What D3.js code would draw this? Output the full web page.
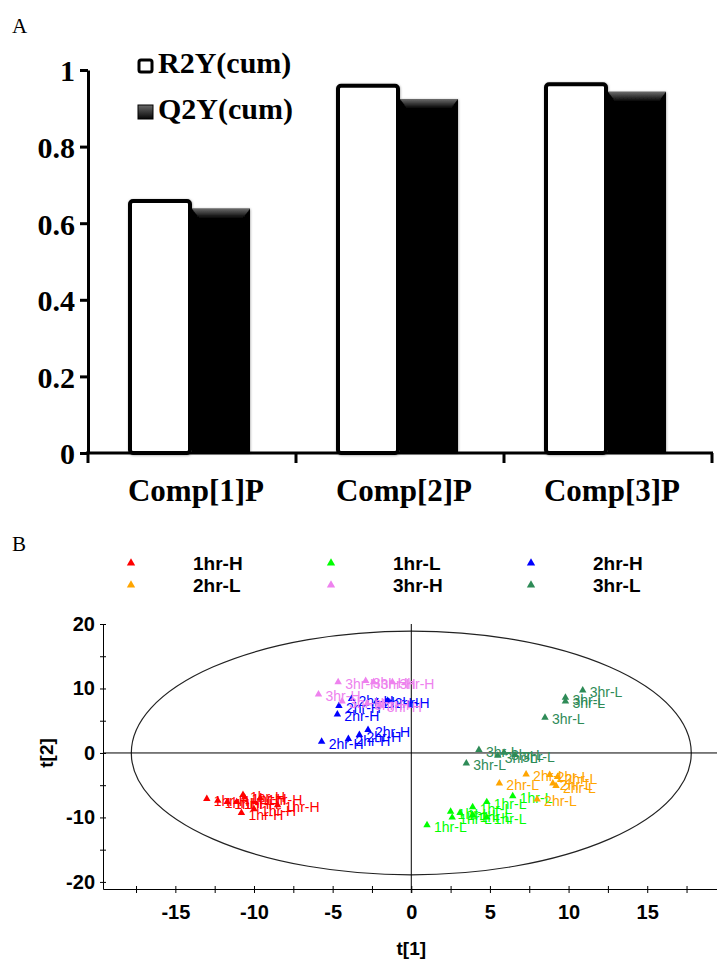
<!DOCTYPE html>
<html>
<head>
<meta charset="utf-8">
<script src="https://cdn.jsdelivr.net/npm/d3@7"></script>
<style>
  body { margin: 0; background: #fff; }
</style>
</head>
<body>
<script>
// panel A data
var components = ["Comp[1]P", "Comp[2]P", "Comp[3]P"];
var seriesA = ["R2Y(cum)", "Q2Y(cum)"];
var r2y = [0.658, 0.959, 0.963];
var q2y = [0.638, 0.924, 0.943];
var yTicksA = [0, 0.2, 0.4, 0.6, 0.8, 1];

// panel B data
var groups = ["1hr-H", "1hr-L", "2hr-H", "2hr-L", "3hr-H", "3hr-L"];
var groupColors = ["#ff0000", "#00ff00", "#0000ff", "#ffa500", "#ee82ee", "#2e8b57"];
var pts1hrH = [[-13.0, -7.1], [-12.3, -7.4], [-11.7, -7.6], [-11.1, -7.6], [-10.7, -6.5], [-10.6, -6.9], [-9.6, -7.0], [-8.5, -8.1], [-10.0, -8.7], [-10.8, -9.3]];
var pts1hrL = [[1.0, -11.2], [2.5, -9.1], [2.6, -10.0], [3.1, -9.3], [3.9, -8.4], [3.9, -9.6], [4.8, -7.6], [4.8, -10.0], [6.45, -6.7]];
var pts2hrH = [[-5.7, 1.75], [-4.0, 2.2], [-3.3, 2.8], [-2.75, 3.6], [-4.7, 6.0], [-4.6, 7.3], [-3.8, 8.4], [-2.2, 8.0], [-1.5, 8.1]];
var pts2hrL = [[7.3, -3.3], [8.8, -3.4], [9.3, -3.7], [9.0, -4.7], [9.2, -5.1], [5.6, -4.7], [8.0, -7.2]];
var pts3hrH = [[-5.9, 9.1], [-4.65, 11.0], [-2.9, 11.2], [-2.4, 11.0], [-1.2, 11.0], [-4.4, 8.0], [-2.8, 7.7], [-2.0, 7.4]];
var pts3hrL = [[10.9, 9.7], [9.8, 8.6], [9.8, 8.0], [8.5, 5.5], [4.3, 0.5], [5.5, -0.4], [5.9, 0.05], [6.6, -0.3], [3.5, -1.6]];
var groupPoints = [pts1hrH, pts1hrL, pts2hrH, pts2hrL, pts3hrH, pts3hrL];
var xTicksB = [-15, -10, -5, 0, 5, 10, 15];
var yTicksB = [-20, -10, 0, 10, 20];
var ellipseRadii = [17.8, 18.9]; // t[1], t[2] units

var serif = "'Liberation Serif', 'Times New Roman', serif";
var sans = "'Liberation Sans', Arial, sans-serif";

var svg = d3.select("body").append("svg")
    .attr("width", 717)
    .attr("height", 963);

var defs = svg.append("defs");
var bevel = defs.append("linearGradient")
    .attr("id", "bevel")
    .attr("x1", 0).attr("y1", 0).attr("x2", 0).attr("y2", 1);
bevel.append("stop").attr("offset", "0%").attr("stop-color", "#6a6a6a");
bevel.append("stop").attr("offset", "100%").attr("stop-color", "#060606");

var shadow = defs.append("filter").attr("id", "shadow")
    .attr("x", "-10%").attr("y", "-10%").attr("width", "120%").attr("height", "120%");
shadow.append("feDropShadow")
    .attr("dx", 0.5).attr("dy", 0.5)
    .attr("stdDeviation", 1.2)
    .attr("flood-color", "#000")
    .attr("flood-opacity", 0.35);

// ---------- panel A ----------
svg.append("text")
    .attr("x", 12).attr("y", 33)
    .style("font-family", serif).style("font-size", "21px")
    .text("A");

var xA = d3.scaleBand().domain(components).range([88, 712]);
var yA = d3.scaleLinear().domain([0, 1]).range([453, 70]);
var barW = 60;

var gA = svg.append("g");

// white R2Y bars
gA.selectAll(".r2y")
    .data(components)
    .enter()
    .append("rect")
    .attr("class", "r2y")
    .attr("x", function(d){ return xA(d) + xA.bandwidth() / 2 - barW - 2; })
    .attr("y", function(d, i){ return yA(r2y[i]); })
    .attr("width", barW)
    .attr("height", function(d, i){ return yA(0) - yA(r2y[i]); })
    .attr("rx", 3)
    .style("fill", "#fff")
    .style("stroke", "#000")
    .style("stroke-width", 4)
    .attr("filter", "url(#shadow)");

// black Q2Y bars
var q = gA.selectAll(".q2y")
    .data(components)
    .enter()
    .append("g")
    .attr("class", "q2y")
    .attr("filter", "url(#shadow)");

q.append("rect")
    .attr("x", function(d){ return xA(d) + xA.bandwidth() / 2; })
    .attr("y", function(d, i){ return yA(q2y[i]); })
    .attr("width", barW - 2)
    .attr("height", function(d, i){ return yA(0) - yA(q2y[i]); })
    .style("fill", "#060606");

q.append("path")
    .attr("d", function(d, i){
        var x0 = xA(d) + xA.bandwidth() / 2, x1 = x0 + barW - 2, y0 = yA(q2y[i]);
        return "M" + x0 + "," + y0 + "L" + x1 + "," + y0 + "L" + (x1 - 7) + "," + (y0 + 9) +
            "L" + (x0 + 7) + "," + (y0 + 9) + "Z";
    })
    .style("fill", "url(#bevel)");

// y axis A
var axisA = gA.append("g")
    .attr("transform", "translate(88,0)")
    .call(d3.axisLeft(yA).tickValues(yTicksA).tickSize(8).tickSizeOuter(0).tickPadding(5)
        .tickFormat(function(d){ return String(d); }));
axisA.select(".domain").style("stroke-width", 3);
axisA.selectAll(".tick line").style("stroke-width", 3);
axisA.selectAll(".tick text")
    .attr("dy", "0.36em")
    .style("font-family", serif).style("font-size", "30px").style("font-weight", "bold");

// x axis A
gA.append("line")
    .attr("x1", 86).attr("x2", 713)
    .attr("y1", yA(0)).attr("y2", yA(0))
    .style("stroke", "#000").style("stroke-width", 3);
var bounds = components.map(function(d){ return xA(d); }).concat([xA.range()[1]]);
gA.selectAll(".xtickA")
    .data(bounds)
    .enter()
    .append("line")
    .attr("x1", function(d){ return d; }).attr("x2", function(d){ return d; })
    .attr("y1", yA(0)).attr("y2", yA(0) + 10)
    .style("stroke", "#000").style("stroke-width", 3);
gA.selectAll(".catlab")
    .data(components)
    .enter()
    .append("text")
    .attr("x", function(d){ return xA(d) + xA.bandwidth() / 2 + 4; })
    .attr("y", 501)
    .attr("text-anchor", "middle")
    .style("font-family", serif).style("font-size", "31px").style("font-weight", "bold")
    .text(function(d){ return d; });

// legend A
var legA = gA.selectAll(".legA")
    .data(seriesA)
    .enter()
    .append("g")
    .attr("transform", function(d, i){ return "translate(138," + (59 + i * 46) + ")"; });
legA.append("rect")
    .attr("x", function(d, i){ return i ? 0 : 1; })
    .attr("y", function(d, i){ return i ? 0 : 1; })
    .attr("width", function(d, i){ return i ? 15 : 13; })
    .attr("height", function(d, i){ return i ? 14 : 12; })
    .attr("rx", function(d, i){ return i ? 0 : 2; })
    .style("fill", function(d, i){ return i ? "url(#bevel)" : "#fff"; })
    .style("stroke", "#000")
    .style("stroke-width", function(d, i){ return i ? 1 : 3; });
legA.append("text")
    .attr("x", 20).attr("y", 14)
    .style("font-family", serif).style("font-size", "30px").style("font-weight", "bold")
    .text(function(d){ return d; });

// ---------- panel B ----------
svg.append("text")
    .attr("x", 12).attr("y", 551)
    .style("font-family", serif).style("font-size", "21px")
    .text("B");

// legend B
var legB = svg.selectAll(".legB")
    .data(groups)
    .enter()
    .append("g")
    .attr("transform", function(d, i){
        return "translate(131," + (563 + Math.floor(i / 3) * 22) + ")";
    })
    .attr("transform", function(d, i){
        return "translate(" + (131 + (i % 3) * 200) + "," + (563 + Math.floor(i / 3) * 22) + ")";
    });
legB.append("path")
    .attr("d", d3.symbol(d3.symbolTriangle, 30))
    .style("fill", function(d, i){ return groupColors[i]; });
legB.append("text")
    .attr("x", 62).attr("y", 7)
    .style("font-family", sans).style("font-size", "19px").style("font-weight", "bold")
    .text(function(d){ return d; });

var xB = d3.scaleLinear().domain([-19.6, 19.5]).range([103, 718]);
var yB = d3.scaleLinear().domain([-21.1, 20]).range([889, 624]);

var gB = svg.append("g");

// Hotelling ellipse
gB.append("ellipse")
    .attr("cx", xB(0)).attr("cy", yB(0))
    .attr("rx", xB(ellipseRadii[0]) - xB(0))
    .attr("ry", yB(0) - yB(ellipseRadii[1]))
    .style("fill", "none").style("stroke", "#222").style("stroke-width", 1.2);

// zero lines
gB.append("line")
    .attr("x1", xB.range()[0]).attr("x2", xB.range()[1])
    .attr("y1", yB(0)).attr("y2", yB(0))
    .style("stroke", "#000").style("stroke-width", 1);
gB.append("line")
    .attr("x1", xB(0)).attr("x2", xB(0))
    .attr("y1", yB.range()[1]).attr("y2", yB.range()[0] + 4)
    .style("stroke", "#000").style("stroke-width", 1);

// y axis B
var yMinor = [-15, -5, 5, 15];
gB.append("g")
    .attr("transform", "translate(103,0)")
    .call(d3.axisLeft(yB).tickValues(yTicksB).tickSize(3).tickSizeOuter(0).tickPadding(5)
        .tickFormat(function(d){ return String(d); }));
gB.append("g")
    .attr("transform", "translate(103,0)")
    .call(d3.axisLeft(yB).tickValues(yMinor).tickSize(3).tickSizeOuter(0).tickFormat(""))
    .select(".domain").remove();

// x axis B
var xMinor = [-17.5, -12.5, -7.5, -2.5, 2.5, 7.5, 12.5, 17.5];
gB.append("g")
    .attr("transform", "translate(0,889)")
    .call(d3.axisBottom(xB).tickValues(xTicksB).tickSize(4).tickSizeOuter(0).tickPadding(12)
        .tickFormat(function(d){ return String(d); }));
gB.append("g")
    .attr("transform", "translate(0,889)")
    .call(d3.axisBottom(xB).tickValues(xMinor).tickSize(4).tickSizeOuter(0).tickFormat(""))
    .select(".domain").remove();

// ticks cross the axis line
gB.selectAll(".tick line").each(function(){
    var l = d3.select(this);
    if (l.attr("x2")) l.attr("x1", 3);
    if (l.attr("y2")) l.attr("y1", -3);
});
gB.selectAll(".tick text")
    .style("font-family", sans).style("font-size", "20px").style("font-weight", "bold");

gB.append("text")
    .attr("x", xB(0)).attr("y", 955)
    .attr("text-anchor", "middle")
    .style("font-family", sans).style("font-size", "19px").style("font-weight", "bold")
    .text("t[1]");
gB.append("text")
    .attr("transform", "translate(53," + yB(0) + ") rotate(-90)")
    .attr("text-anchor", "middle")
    .style("font-family", sans).style("font-size", "19px").style("font-weight", "bold")
    .text("t[2]");

// score points with labels
var tri = d3.symbol(d3.symbolTriangle, 24);
groups.forEach(function(g, k){
    var layer = gB.append("g").style("fill", groupColors[k]);
    layer.selectAll("path")
        .data(groupPoints[k])
        .enter()
        .append("path")
        .attr("d", tri)
        .attr("transform", function(d){ return "translate(" + xB(d[0]) + "," + yB(d[1]) + ")"; });
    layer.selectAll("text")
        .data(groupPoints[k])
        .enter()
        .append("text")
        .attr("x", function(d){ return xB(d[0]) + 7; })
        .attr("y", function(d){ return yB(d[1]) + 7; })
        .style("font-family", sans).style("font-size", "14px")
        .text(g);
});
</script>
</body>
</html>
